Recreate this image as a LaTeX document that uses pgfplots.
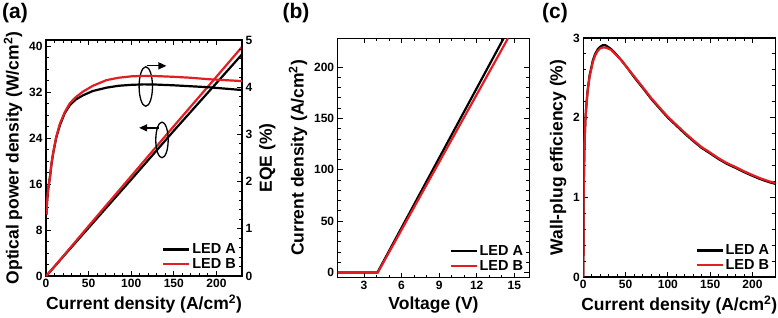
\documentclass[border=0pt]{standalone}
\usepackage{fontspec}
\setmainfont{Liberation Sans}
\usepackage{pgfplots}
\pgfplotsset{compat=1.18}
\usetikzlibrary{arrows.meta}
\definecolor{ledred}{RGB}{225,30,35}

\pgfplotsset{
 myaxis/.style={
   scale only axis,
   anchor=south west,
   axis line style={line width=1.2pt},
   every tick/.style={line width=0.9pt, black},
   major tick length=5pt, minor tick length=3pt,
   tick align=inside,
   tick label style={font=\bfseries\fontsize{12}{12}\selectfont},
   /pgf/number format/assume math mode=true,
   label style={font=\bfseries\fontsize{17.5}{18}\selectfont},
   legend style={draw=none, fill=none, font=\bfseries\fontsize{14.5}{15}\selectfont,
     at={(1,0)}, anchor=south east, xshift=-3pt, yshift=3pt, row sep=-1pt,
     inner sep=1pt, cells={anchor=west}},
   legend image code/.code={\draw[#1, line width=2.2pt] (0pt,0pt) -- (26pt,0pt);},
   every axis plot/.append style={line width=2.2pt},
 },
}

\begin{document}
\begin{tikzpicture}
\useasboundingbox (0,0) rectangle (778pt,317pt);

% ---------------- (a) ----------------
\begin{axis}[myaxis, at={(46pt,41pt)}, width=196pt, height=236pt,
  xmin=0, xmax=230, ymin=0, ymax=41.1,
  xtick={0,50,...,200}, minor x tick num=4,
  ytick={0,8,...,40}, minor y tick num=3,
  ytick pos=left, xtick pos=both, xticklabel pos=lower,
  xlabel={Current density (A/cm\textsuperscript{2})},
  ylabel={Optical power density (W/cm\textsuperscript{2})},
  ]
\addplot[black] coordinates {(0,0) (5,0.8) (25,4.2) (50,8.4) (100,16.8) (150,25.3) (200,33.6) (230,38.6)};
\addlegendentry{LED A}
\addplot[ledred] coordinates {(0,0) (5,0.8) (25,4.3) (50,8.7) (100,17.4) (150,26.1) (200,34.7) (230,39.9)};
\addlegendentry{LED B}
\draw[line width=1.3pt] (axis cs:117.1,33.0) ellipse [x radius=6.7pt, y radius=19.7pt];
\draw[line width=1.3pt, -{Triangle[length=8pt,width=7pt]}] (axis cs:118,36.6) -- (axis cs:141.3,36.6);
\draw[line width=1.3pt] (axis cs:136.1,23.7) ellipse [x radius=6.2pt, y radius=17.8pt];
\draw[line width=1.3pt, -{Triangle[length=8pt,width=7pt]}] (axis cs:132.7,25.8) -- (axis cs:109.3,25.8);
\end{axis}

\begin{axis}[myaxis, at={(46pt,41pt)}, width=196pt, height=236pt,
  xmin=0, xmax=230, ymin=0, ymax=5,
  axis x line=none, axis y line*=right,
  ytick={0,1,...,5}, minor y tick num=4,
  ytick pos=right, yticklabel pos=right,
  ylabel={EQE (\%)},
  ]
\addplot[black] coordinates {(0.5,1.3) (1,1.5) (2,1.75) (3,1.9) (4.7,2.1) (6.5,2.38) (8.6,2.62) (12,2.93) (16.4,3.2) (22,3.45) (28,3.62) (35,3.74) (43.7,3.83) (55,3.92) (71,3.99) (85,4.03) (100,4.05) (115,4.06) (130,4.055) (150,4.04) (170,4.02) (190,4.0) (210,3.97) (230,3.94)};
\addplot[ledred] coordinates {(0.5,1.3) (1,1.5) (2,1.75) (3,1.9) (4.7,2.1) (6.5,2.4) (8.6,2.63) (12,2.95) (16.4,3.23) (22,3.47) (28,3.66) (35,3.79) (43.7,3.91) (55,4.03) (71,4.15) (85,4.2) (100,4.23) (115,4.24) (130,4.235) (150,4.22) (170,4.2) (190,4.17) (210,4.15) (230,4.13)};
\end{axis}

% ---------------- (b) ----------------
\begin{axis}[myaxis, at={(337.7pt,39.3pt)}, width=191.6pt, height=239.4pt,
  xmin=0.9, xmax=16.2, ymin=-5, ymax=228,
  xtick={3,6,...,15}, minor x tick num=2,
  ytick={0,50,...,200}, minor y tick num=4,
  xlabel={Voltage (V)},
  ylabel={Current density (A/cm\textsuperscript{2})},
  ]
\addplot[black] coordinates {(0.9,0) (4.07,0) (14.15,228)};
\addlegendentry{LED A}
\addplot[ledred] coordinates {(0.9,0) (4.1,0) (14.5,228)};
\addlegendentry{LED B}
\end{axis}

% ---------------- (c) ----------------
\begin{axis}[myaxis, at={(583.3pt,40pt)}, width=192pt, height=239pt,
  xmin=0, xmax=227, ymin=0, ymax=3,
  xtick={0,50,...,200}, minor x tick num=4,
  ytick={0,1,2,3}, minor y tick num=4,
  xlabel={Current density (A/cm\textsuperscript{2})},
  ylabel={Wall-plug efficiency (\%)},
  ]
\addplot[black] coordinates {(0,0) (0.4,1.0) (0.8,1.35) (1.5,1.7) (2.5,1.98) (3.5,2.14) (5,2.33) (7.4,2.53) (9.5,2.63) (11.3,2.72) (14,2.80) (17.2,2.86) (20,2.89) (23.1,2.91) (26,2.91) (29,2.89) (33,2.86) (36.8,2.82) (45,2.72) (52.4,2.62) (60,2.51) (72,2.35) (80,2.24) (91.5,2.10) (100,2.00) (111,1.89) (120,1.80) (130.7,1.70) (140,1.62) (150.2,1.55) (160,1.48) (169.8,1.42) (180,1.37) (189.4,1.32) (200,1.27) (209,1.23) (220,1.19) (227,1.17)};
\addlegendentry{LED A}
\addplot[ledred] coordinates {(0,0) (0.4,1.0) (0.8,1.35) (1.5,1.7) (2.5,1.98) (3.5,2.13) (5,2.32) (7.4,2.51) (9.5,2.61) (11.3,2.70) (14,2.78) (17.2,2.84) (20,2.87) (23.1,2.88) (26,2.88) (29,2.87) (33,2.85) (36.8,2.81) (45,2.72) (52.4,2.62) (60,2.52) (72,2.36) (80,2.25) (91.5,2.11) (100,2.01) (111,1.90) (120,1.81) (130.7,1.71) (140,1.63) (150.2,1.56) (160,1.49) (169.8,1.43) (180,1.38) (189.4,1.33) (200,1.28) (209,1.24) (220,1.20) (227,1.18)};
\addlegendentry{LED B}
\end{axis}

\node[font=\bfseries\fontsize{21}{21}\selectfont] at (15pt,304pt) {(a)};
\node[font=\bfseries\fontsize{21}{21}\selectfont] at (296pt,304pt) {(b)};
\node[font=\bfseries\fontsize{21}{21}\selectfont] at (555pt,304pt) {(c)};
\end{tikzpicture}
\end{document}
